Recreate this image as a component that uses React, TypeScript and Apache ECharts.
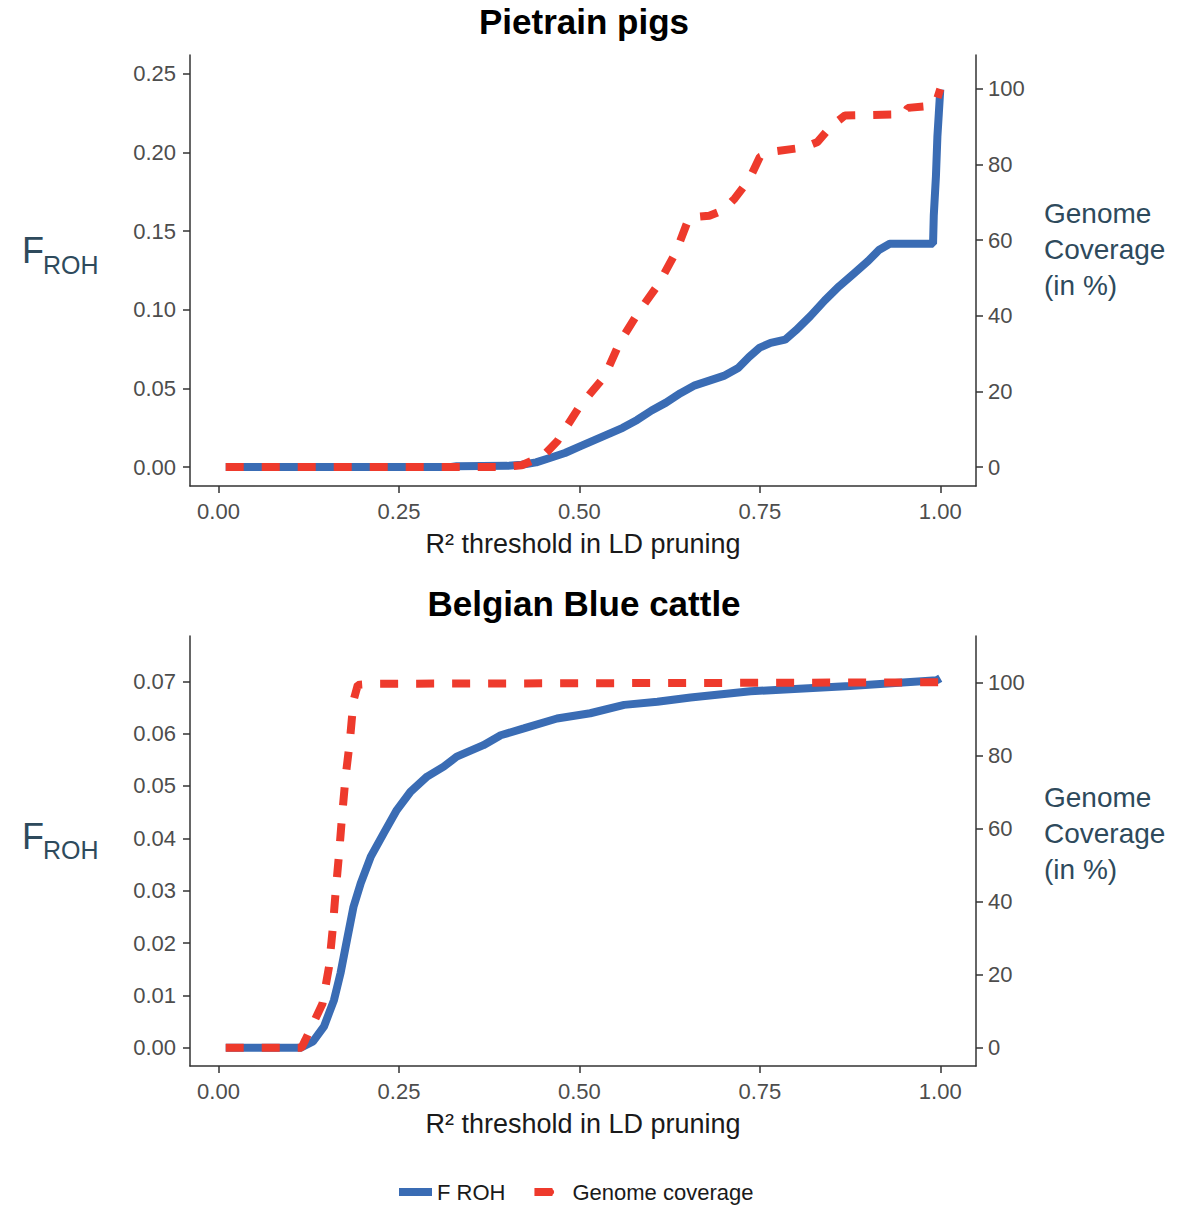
import React, { useEffect, useRef } from "react";
import * as echarts from "echarts";

const FONT = '"Liberation Sans", Arial, Helvetica, sans-serif';
const BLUE = "#3a6cb4";
const RED = "#ee3a2c";
const LABEL_COLOR = "#2e4a5c";

// Tick values
const xTicks = [0, 0.25, 0.5, 0.75, 1];
const pigFTicks = [0, 0.05, 0.1, 0.15, 0.2, 0.25];
const cattleFTicks = [0, 0.01, 0.02, 0.03, 0.04, 0.05, 0.06, 0.07];
const coverageTicks = [0, 20, 40, 60, 80, 100];

// Pietrain pigs: F ROH
const pigFx = [0.01, 0.32, 0.33, 0.40, 0.42, 0.44, 0.46, 0.48, 0.50, 0.52, 0.54, 0.56, 0.58, 0.60, 0.62, 0.64, 0.66, 0.68, 0.70, 0.72, 0.735, 0.75, 0.765, 0.785, 0.80, 0.82, 0.84, 0.86, 0.88, 0.90, 0.915, 0.93, 0.99, 0.991, 0.994, 0.996, 0.998, 1.0];
const pigFy = [0, 0, 0.0006, 0.0008, 0.0015, 0.003, 0.006, 0.009, 0.013, 0.017, 0.021, 0.025, 0.030, 0.036, 0.041, 0.047, 0.052, 0.055, 0.058, 0.063, 0.070, 0.076, 0.079, 0.081, 0.087, 0.096, 0.106, 0.115, 0.123, 0.131, 0.138, 0.142, 0.142, 0.160, 0.185, 0.210, 0.225, 0.240];

// Pietrain pigs: genome coverage (%)
const pigCovX = [0.01, 0.39, 0.42, 0.45, 0.47, 0.50, 0.535, 0.556, 0.582, 0.61, 0.634, 0.652, 0.68, 0.70, 0.715, 0.735, 0.75, 0.77, 0.81, 0.83, 0.848, 0.868, 0.95, 0.955, 0.985, 0.995, 1.0];
const pigCovY = [0, 0, 0.5, 3, 7, 16, 24, 33, 41, 48.5, 57, 66, 66.5, 68, 71, 76, 82, 83.5, 84.5, 86, 90, 93, 93.3, 95, 95.5, 97, 100];

// Belgian Blue cattle: F ROH
const cattleFx = [0.01, 0.114, 0.131, 0.146, 0.160, 0.169, 0.178, 0.187, 0.197, 0.211, 0.229, 0.247, 0.266, 0.289, 0.312, 0.330, 0.367, 0.391, 0.423, 0.469, 0.515, 0.562, 0.608, 0.654, 0.737, 0.875, 0.995, 1.0];
const cattleFy = [0, 0, 0.0012, 0.004, 0.0091, 0.0142, 0.0206, 0.0269, 0.0314, 0.0365, 0.041, 0.0454, 0.0489, 0.0518, 0.0537, 0.0556, 0.0578, 0.0597, 0.061, 0.0629, 0.0639, 0.0655, 0.0661, 0.0669, 0.0681, 0.0691, 0.0702, 0.0706];

// Belgian Blue cattle: genome coverage (%)
const cattleCovX = [0.01, 0.115, 0.12, 0.144, 0.153, 0.158, 0.162, 0.167, 0.171, 0.176, 0.182, 0.187, 0.193, 0.215, 1.0];
const cattleCovY = [0, 0, 2, 12, 22, 32, 42, 53, 63, 74, 84, 95, 99.3, 99.6, 100];

const zip = (xs: number[], ys: number[]) => xs.map((x, i) => [x, ys[i]]);

// axis ranges (with ggplot-like expansion)
const X_MIN = -0.0395;
const X_MAX = 1.0495;
const PIG_F_MIN = -0.012;
const PIG_F_MAX = 0.262;
const PIG_K = 0.002404; // F per % coverage
const CAT_F_MIN = -0.0035;
const CAT_F_MAX = 0.07866;
const CAT_K = 0.0006981;

const axisLineStyle = { color: "#333333", width: 1.5 };
const tickLabel = { color: "#4d4d4d", fontSize: 22, fontFamily: FONT };

function xAxisCfg(gridIndex: number) {
  return {
    type: "value",
    gridIndex,
    min: X_MIN,
    max: X_MAX,
    splitLine: { show: false },
    axisLine: { show: true, onZero: false, lineStyle: axisLineStyle },
    axisTick: { show: true, length: 7, customValues: xTicks, lineStyle: axisLineStyle },
    axisLabel: { ...tickLabel, margin: 14, customValues: xTicks, formatter: (v: number) => v.toFixed(2) },
    name: "R² threshold in LD pruning",
    nameLocation: "middle",
    nameGap: 58,
    nameTextStyle: { fontSize: 27, color: "#1a1a1a", fontFamily: FONT, verticalAlign: "middle" },
  };
}

function yAxisCfg(gridIndex: number, position: string, min: number, max: number, ticks: number[], digits: number) {
  return {
    type: "value",
    gridIndex,
    position,
    min,
    max,
    splitLine: { show: false },
    axisLine: { show: true, onZero: false, lineStyle: axisLineStyle },
    axisTick: { show: true, length: 7, customValues: ticks, lineStyle: axisLineStyle },
    axisLabel: {
      ...tickLabel,
      margin: position === "left" ? 14 : 12,
      customValues: ticks,
      formatter: (v: number) => (digits > 0 ? v.toFixed(digits) : String(Math.round(v))),
    },
  };
}

function lineSeries(name: string, xi: number, yi: number, data: number[][], color: string, dashed: boolean) {
  return {
    type: "line",
    name,
    xAxisIndex: xi,
    yAxisIndex: yi,
    data,
    symbol: "none",
    showSymbol: false,
    silent: true,
    itemStyle: { color },
    lineStyle: { color, width: 8, type: dashed ? [18, 18] : "solid", cap: "butt" },
    z: dashed ? 3 : 2,
  };
}

function sideLabels(fY: number, roY: number, covY: number) {
  return [
    { type: "text", x: 22, y: fY, style: { text: "F", fontSize: 36, fontFamily: FONT, fill: LABEL_COLOR, verticalAlign: "middle", align: "left" } },
    { type: "text", x: 43, y: roY, style: { text: "ROH", fontSize: 25, fontFamily: FONT, fill: LABEL_COLOR, verticalAlign: "middle", align: "left" } },
    {
      type: "text",
      x: 1044,
      y: covY,
      style: { text: "Genome\nCoverage\n(in %)", fontSize: 28, lineHeight: 36, fontFamily: FONT, fill: LABEL_COLOR, verticalAlign: "middle", align: "left" },
    },
  ];
}

export default function App() {
  const ref = useRef<HTMLDivElement>(null);

  useEffect(() => {
    if (!ref.current) return;
    const chart = echarts.init(ref.current, null, { renderer: "svg" });
    const option = {
      animation: false,
      backgroundColor: "#ffffff",
      grid: [
        { left: 190, top: 55, width: 786, height: 431 },
        { left: 190, top: 636, width: 786, height: 430 },
      ],
      xAxis: [xAxisCfg(0), xAxisCfg(1)],
      yAxis: [
        yAxisCfg(0, "left", PIG_F_MIN, PIG_F_MAX, pigFTicks, 2),
        yAxisCfg(0, "right", PIG_F_MIN / PIG_K, PIG_F_MAX / PIG_K, coverageTicks, 0),
        yAxisCfg(1, "left", CAT_F_MIN, CAT_F_MAX, cattleFTicks, 2),
        yAxisCfg(1, "right", CAT_F_MIN / CAT_K, CAT_F_MAX / CAT_K, coverageTicks, 0),
      ],
      legend: {
        data: [
          { name: "F ROH", lineStyle: { width: 8, type: "solid" } },
          { name: "Genome coverage", lineStyle: { width: 8, type: [18, 40] } },
        ],
        left: 395,
        top: 1181,
        padding: 0,
        itemWidth: 33,
        itemHeight: 8,
        itemGap: 25,
        lineStyle: { width: 8 },
        textStyle: { fontSize: 22, color: "#1a1a1a", fontFamily: FONT },
        selectedMode: false,
      },
      series: [
        lineSeries("F ROH", 0, 0, zip(pigFx, pigFy), BLUE, false),
        lineSeries("Genome coverage", 0, 1, zip(pigCovX, pigCovY), RED, true),
        lineSeries("F ROH", 1, 2, zip(cattleFx, cattleFy), BLUE, false),
        lineSeries("Genome coverage", 1, 3, zip(cattleCovX, cattleCovY), RED, true),
      ],
      graphic: [
        { type: "text", x: 584, y: 21, style: { text: "Pietrain pigs", fontSize: 35, fontWeight: "bold", fontFamily: FONT, fill: "#000000", align: "center", verticalAlign: "middle" } },
        { type: "text", x: 584, y: 603, style: { text: "Belgian Blue cattle", fontSize: 35, fontWeight: "bold", fontFamily: FONT, fill: "#000000", align: "center", verticalAlign: "middle" } },
        ...sideLabels(250.5, 264.6, 249),
        ...sideLabels(836.8, 849.6, 833),
      ],
    };
    chart.setOption(option as any);
    return () => chart.dispose();
  }, []);

  return <div ref={ref} style={{ position: "fixed", left: 0, top: 0, width: 1194, height: 1205, background: "#fff" }} />;
}
